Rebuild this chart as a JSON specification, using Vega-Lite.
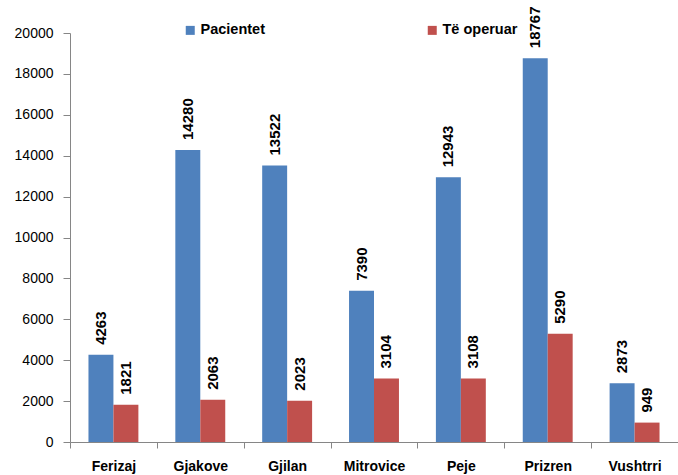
{
  "$schema": "https://vega.github.io/schema/vega-lite/v6.json",
  "autosize": {"type": "none"},
  "width": 608,
  "height": 409,
  "padding": {"left": 70, "top": 33, "right": 0, "bottom": 33},
  "background": "white",
  "config": {"view": {"stroke": null}, "font": "Liberation Sans"},
  "data": {"values": [
    {"city": "Ferizaj", "series": "Pacientet", "value": 4263},
    {"city": "Ferizaj", "series": "Të operuar", "value": 1821},
    {"city": "Gjakove", "series": "Pacientet", "value": 14280},
    {"city": "Gjakove", "series": "Të operuar", "value": 2063},
    {"city": "Gjilan", "series": "Pacientet", "value": 13522},
    {"city": "Gjilan", "series": "Të operuar", "value": 2023},
    {"city": "Mitrovice", "series": "Pacientet", "value": 7390},
    {"city": "Mitrovice", "series": "Të operuar", "value": 3104},
    {"city": "Peje", "series": "Pacientet", "value": 12943},
    {"city": "Peje", "series": "Të operuar", "value": 3108},
    {"city": "Prizren", "series": "Pacientet", "value": 18767},
    {"city": "Prizren", "series": "Të operuar", "value": 5290},
    {"city": "Vushtrri", "series": "Pacientet", "value": 2873},
    {"city": "Vushtrri", "series": "Të operuar", "value": 949}
  ]},
  "encoding": {
    "x": {
      "field": "city", "type": "nominal", "sort": null,
      "scale": {"paddingInner": 0, "paddingOuter": 0},
      "axis": {
        "title": null, "labelAngle": 0, "tickBand": "extent",
        "tickSize": 6, "labelPadding": 11,
        "labelFontSize": 14, "labelFontWeight": "bold", "labelColor": "black",
        "domainColor": "#868686", "tickColor": "#868686"
      }
    },
    "xOffset": {
      "field": "series", "type": "nominal", "sort": ["Pacientet", "Të operuar"],
      "scale": {"paddingOuter": 0.74, "paddingInner": 0}
    },
    "y": {
      "field": "value", "type": "quantitative",
      "scale": {"domain": [0, 20000], "nice": false},
      "axis": {
        "title": null, "grid": false, "format": "d",
        "values": [0, 2000, 4000, 6000, 8000, 10000, 12000, 14000, 16000, 18000, 20000],
        "tickSize": 7, "labelPadding": 10, "labelFontSize": 14, "labelColor": "black",
        "domainColor": "#868686", "tickColor": "#868686"
      }
    }
  },
  "layer": [
    {
      "mark": {"type": "bar"},
      "encoding": {
        "color": {
          "field": "series", "type": "nominal",
          "scale": {"domain": ["Pacientet", "Të operuar"], "range": ["#4F81BD", "#C0504D"]},
          "legend": {
            "title": null, "orient": "none", "direction": "horizontal",
            "legendX": 113, "legendY": -10,
            "symbolType": "square", "symbolSize": 81, "symbolStrokeWidth": 0,
            "labelFontSize": 14.5, "labelFontWeight": "bold", "labelColor": "black",
            "labelOffset": 3, "columnPadding": 160
          }
        }
      }
    },
    {
      "mark": {"type": "text", "angle": 270, "align": "left", "baseline": "middle", "dx": 10,
               "fontSize": 15, "fontWeight": "bold", "color": "black"},
      "encoding": {"text": {"field": "value", "type": "quantitative", "format": "d"}}
    }
  ]
}
